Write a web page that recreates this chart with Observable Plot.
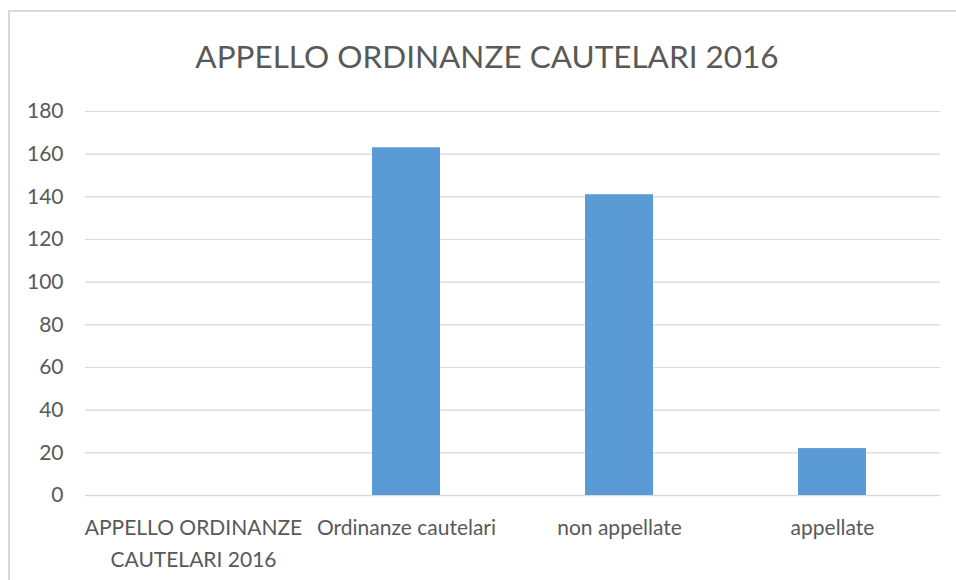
<!DOCTYPE html>
<html>
<head>
<meta charset="utf-8">
<script src="https://cdn.jsdelivr.net/npm/d3@7"></script>
<script src="https://cdn.jsdelivr.net/npm/@observablehq/plot@0.6"></script>
<style>
  html, body { margin: 0; padding: 0; background: #fff; }
  #wrap { position: relative; width: 956px; height: 580px; overflow: hidden; font-family: Lato, Carlito, sans-serif; }
  #frame { position: absolute; left: 8px; top: 10px; width: 1000px; height: 600px; border-left: 2px solid #d9d9d9; border-top: 2px solid #d9d9d9; box-sizing: border-box; }
  #title { position: absolute; left: 8px; width: 958px; top: 36px; text-align: center; font-size: 31.5px; line-height: 40px; color: #595959; }
  #chart { position: absolute; left: 0; top: 0; }
</style>
</head>
<body>
<div id="wrap">
  <div id="frame"></div>
  <div id="title">APPELLO ORDINANZE CAUTELARI 2016</div>
  <div id="chart"></div>
</div>
<script>
const categories = ["APPELLO ORDINANZE\nCAUTELARI 2016", "Ordinanze cautelari", "non appellate", "appellate"];
const values = [0, 163, 141, 22];
const yTicks = [0, 20, 40, 60, 80, 100, 120, 140, 160, 180];

const data = categories.map((c, i) => ({category: c, value: values[i]}));

const chart = Plot.plot({
  width: 956,
  height: 580,
  marginTop: 111,
  marginBottom: 85,
  marginLeft: 85,
  marginRight: 16,
  style: {fontFamily: 'Lato, Carlito, sans-serif', fontSize: "21px", color: "#595959", background: "transparent"},
  x: {domain: categories, paddingInner: 0.68, paddingOuter: 0.34, label: null},
  y: {domain: [0, 180], label: null},
  marks: [
    Plot.gridY(yTicks, {stroke: "#d9d9d9", strokeOpacity: 1, strokeWidth: 1.2}),
    Plot.ruleY([0], {stroke: "#d9d9d9", strokeWidth: 1.5}),
    Plot.barY(data, {x: "category", y: "value", fill: "#5b9bd5"}),
    Plot.axisY({ticks: yTicks, tickSize: 0, tickPadding: 22, label: null, fontSize: 21, fill: "#595959"}),
    Plot.axisX({tickSize: 0, tickPadding: 17, label: null, fontSize: 21, lineHeight: 1.52, fill: "#595959", lineAnchor: "top"})
  ]
});
document.getElementById("chart").appendChild(chart);
</script>
</body>
</html>
